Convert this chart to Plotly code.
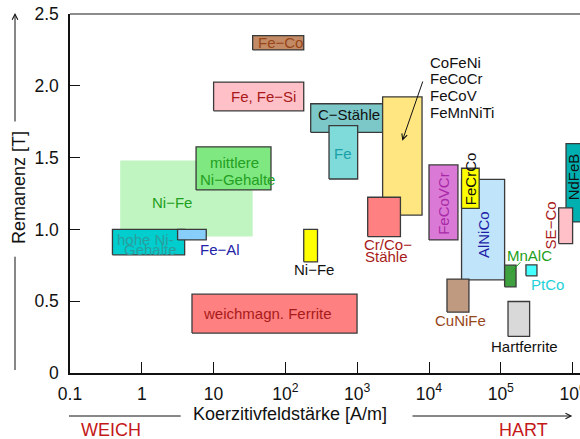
import numpy as np
import plotly.graph_objects as go

FONT = "Liberation Sans, Arial, Helvetica, sans-serif"

# ---------------- data ----------------
materials = ["Ni-Fe", "mittlere Ni-Gehalte", "hohe Ni-Gehalte", "Fe-Al", "Fe-Co",
             "Fe, Fe-Si", "C-Stähle", "Fe", "CoFeNi/FeCoCr/FeCoV/FeMnNiTi", "Ni-Fe (2)",
             "weichmagn. Ferrite", "Cr/Co-Stähle", "FeCoVCr", "AlNiCo", "FeCrCo",
             "CuNiFe", "MnAlC", "PtCo", "Hartferrite", "NdFeB", "SE-Co"]
hc_min = [0.5, 5.7, 0.39, 3.15, 35, 10, 225, 405, 2260, 180,
          5.0, 1400, 10000, 28400, 28400, 17800, 113000, 224000, 126000, 810000, 640000]
hc_max = [35, 63, 3.95, 7.9, 180, 180, 2260, 1015, 8000, 280,
          995, 4000, 25300, 113000, 50000, 36000, 163000, 319000, 252000, 2500000, 1000000]
br_min = [0.95, 1.275, 0.823, 0.927, 2.25, 1.826, 1.676, 1.351, 1.10, 0.774,
          0.278, 0.95, 0.927, 0.649, 1.147, 0.424, 0.60, 0.677, 0.255, 1.052, 0.901]
br_max = [1.48, 1.575, 1.0, 1.0, 2.35, 2.026, 1.875, 1.722, 1.923, 1.0,
          0.549, 1.224, 1.449, 1.349, 1.426, 0.654, 0.751, 0.753, 0.498, 1.597, 1.150]

x_tickvals = [0.1, 1, 10, 100, 1000, 1e4, 1e5, 1e6]
x_ticktext = ["0.1", "1", "10", "10<sup>2</sup>", "10<sup>3</sup>", "10<sup>4</sup>",
              "10<sup>5</sup>", "10<sup>6</sup>"]
y_tickvals = [0, 0.5, 1.0, 1.5, 2.0, 2.5]
y_ticktext = ["0", "0.5", "1.0", "1.5", "2.0", "2.5"]

# ---------------- styles ----------------
fill_colors = ["#c0f4c0", "#80e880", "#00cdcd", "#87cefa", "#c38b65",
               "#ffc0c8", "#7cc8c8", "#7fdada", "#ffe680", "#ffff00",
               "#ff8080", "#ff8080", "#da7ad6", "#c0e4fa", "#ffff00",
               "#bf9a80", "#3fa03f", "#44ffff", "#d9d9d9", "#00b0b0", "#ffc0c8"]
EDGE = "#3a3a3a"

GREEN = "#22a022"; TEAL = "#1aa0a8"; TEAL2 = "#2a9e9e"; BLUE = "#2222a8"
BROWN = "#97461a"; DRED = "#a81a1a"; BLACK = "#111111"; PURPLE = "#a82aa8"
NAVY = "#1c1ca8"; CYAN = "#22d0d8"; RED = "#c41818"

# label specs: (text, ref, dx px, dy px, color, angle, xanchor)
labels = [
    [("Ni−Fe", "c", -14.6, -3.6, GREEN, 0, "center")],
    [("mittlere", "c", 0.6, 5.6, GREEN, 0, "center"), ("Ni−Gehalte", "c", 3.8, -11, GREEN, 0, "center")],
    [("hohe Ni-", "c", -3.3, 3.1, TEAL2, 0, "center"), ("Gehalte", "c", 1.7, -6.9, TEAL2, 0, "center")],
    [("Fe−Al", "c", 28.3, -15.3, BLUE, 0, "center")],
    [("Fe−Co", "c", 2.5, 0, BROWN, 0, "center")],
    [("Fe, Fe−Si", "c", 4.6, -0.4, DRED, 0, "center")],
    [("C−Stähle", "c", 2.7, 3.7, BLACK, 0, "center")],
    [("Fe", "c", 0, -1, TEAL, 0, "center")],
    [("CoFeNi", "tr", 5.6, 34.2, BLACK, 0, "left"), ("FeCoCr", "tr", 5.6, 17.9, BLACK, 0, "left"),
     ("FeCoV", "tr", 5.6, 0.9, BLACK, 0, "left"), ("FeMnNiTi", "tr", 5.6, -15.8, BLACK, 0, "left")],
    [("Ni−Fe", "b", 3, -8, BLACK, 0, "center")],
    [("weichmagn. Ferrite", "c", -7.2, -0.2, DRED, 0, "center")],
    [("Cr/Co−", "b", 3.7, -8.3, DRED, 0, "center"), ("Stähle", "b", 2.9, -20, DRED, 0, "center")],
    [("FeCoVCr", "c", 0, -1, PURPLE, -90, "center")],
    [("AlNiCo", "c", 1.2, -5.3, NAVY, -90, "center")],
    [("FeCrCo", "c", 0.8, 9.3, BLACK, -90, "center")],
    [("CuNiFe", "b", 2.3, -8.4, BROWN, 0, "center")],
    [("MnAlC", "c", 19.3, 20.2, GREEN, 0, "center")],
    [("PtCo", "c", 16.5, -13.8, CYAN, 0, "center")],
    [("Hartferrite", "b", 5.8, -10, BLACK, 0, "center")],
    [("NdFeB", "lc", 7.6, 6.1, BLACK, -90, "center")],
    [("SE−Co", "c", -15.3, 0.7, DRED, -90, "center")],
]

W, H = 580, 439
ML, MR, MT, MB = 70, 0, 14, 66
PW, PH = W - ML - MR, H - MT - MB
DEC = 71.8
XR = [-1, -1 + PW / DEC]
YR = [0, 2.5]


def px2paper(px, py):
    return (px - ML) / PW, (H - MB - py) / PH


fig = go.Figure()
for i in range(len(materials)):
    x0, x1, y0, y1 = hc_min[i], hc_max[i], br_min[i], br_max[i]
    border = i != 0
    fig.add_trace(go.Scatter(
        x=[x0, x1, x1, x0, x0], y=[y0, y0, y1, y1, y0], mode="lines",
        fill="toself", fillcolor=fill_colors[i],
        line=dict(color=EDGE if border else fill_colors[i], width=1.3 if border else 0),
        hoverinfo="skip", showlegend=False, name=materials[i]))

annotations = []
for i, specs in enumerate(labels):
    lx0, lx1 = np.log10(hc_min[i]), np.log10(hc_max[i])
    for (txt, ref, dx, dy, col, ang, xa) in specs:
        if ref == "c":
            ax_, ay_ = (lx0 + lx1) / 2, (br_min[i] + br_max[i]) / 2
        elif ref == "b":
            ax_, ay_ = (lx0 + lx1) / 2, br_min[i]
        elif ref == "tr":
            ax_, ay_ = lx1, br_max[i]
        else:  # lc
            ax_, ay_ = lx0, (br_min[i] + br_max[i]) / 2
        annotations.append(dict(
            x=ax_, y=ay_, xref="x", yref="y", text=txt, showarrow=False,
            xshift=dx, yshift=dy, textangle=ang, xanchor=xa, yanchor="middle",
            font=dict(family=FONT, size=15, color=col)))

# arrow pointing to the yellow CoFeNi box
annotations.append(dict(x=(402.3 - ML) / DEC - 1, y=(H - MB - 140.7) / (PH / 2.5),
                        xref="x", yref="y", text="", showarrow=True, ax=21, ay=-60.7,
                        arrowhead=5, arrowsize=1.1, arrowwidth=1, arrowcolor="#111111"))
# MnAlC leader line
annotations.append(dict(x=(511 - ML) / DEC - 1, y=(H - MB - 272.7) / (PH / 2.5),
                        xref="x", yref="y", text="", showarrow=True, ax=10.7, ay=-12,
                        arrowhead=0, arrowwidth=1, arrowcolor=GREEN))

# axis titles and arrows
px_, py_ = px2paper(19, 188)
annotations.append(dict(x=px_, y=py_, xref="paper", yref="paper", text="Remanenz [T]",
                        showarrow=False, textangle=-90, xanchor="center", yanchor="middle",
                        font=dict(family=FONT, size=18, color="#111111")))
px_, py_ = px2paper(290, 414)
annotations.append(dict(x=px_, y=py_, xref="paper", yref="paper",
                        text="Koerzitivfeldstärke [A/m]", showarrow=False,
                        xanchor="center", yanchor="middle",
                        font=dict(family=FONT, size=18, color="#111111")))
px_, py_ = px2paper(111, 430)
annotations.append(dict(x=px_, y=py_, xref="paper", yref="paper", text="WEICH",
                        showarrow=False, xanchor="center", yanchor="middle",
                        font=dict(family=FONT, size=18, color=RED)))
px_, py_ = px2paper(523, 430)
annotations.append(dict(x=px_, y=py_, xref="paper", yref="paper", text="HART",
                        showarrow=False, xanchor="center", yanchor="middle",
                        font=dict(family=FONT, size=18, color=RED)))
# y arrow (upper part)
px_, py_ = px2paper(15, 13)
annotations.append(dict(x=px_, y=py_, xref="paper", yref="paper", text="", showarrow=True,
                        ax=0, ay=110, arrowhead=5, arrowsize=1.1, arrowwidth=1,
                        arrowcolor="#111111"))
# x arrow (right part)
px_, py_ = px2paper(572.3, 416)
annotations.append(dict(x=px_, y=py_, xref="paper", yref="paper", text="", showarrow=True,
                        ax=-161.3, ay=0, arrowhead=5, arrowsize=1.1, arrowwidth=1,
                        arrowcolor="#111111"))

shapes = []
a = px2paper(15, 256.7); b = px2paper(15, 370)
shapes.append(dict(type="line", xref="paper", yref="paper", x0=a[0], y0=a[1], x1=b[0], y1=b[1],
                   line=dict(color="#111111", width=1)))
a = px2paper(69, 416); b = px2paper(180.7, 416)
shapes.append(dict(type="line", xref="paper", yref="paper", x0=a[0], y0=a[1], x1=b[0], y1=b[1],
                   line=dict(color="#111111", width=1)))
shapes.append(dict(type="line", xref="paper", yref="paper", x0=0, y0=1, x1=1.05, y1=1,
                   line=dict(color="#666666", width=1.3)))

fig.update_layout(
    width=W, height=H, margin=dict(l=ML, r=MR, t=MT, b=MB, pad=0),
    paper_bgcolor="white", plot_bgcolor="white",
    font=dict(family=FONT, size=17.5, color="#111111"),
    annotations=annotations, shapes=shapes,
    xaxis=dict(type="log", range=XR, tickvals=x_tickvals, ticktext=x_ticktext,
               ticks="inside", ticklen=11, tickwidth=1.3, tickcolor="#111111",
               showline=True, linecolor="#111111", linewidth=1.5, showgrid=False,
               zeroline=False, ticklabelstandoff=4, automargin=False,
               ticklabeloverflow="allow",
               tickfont=dict(family=FONT, size=17.5, color="#111111")),
    yaxis=dict(range=YR, tickvals=y_tickvals, ticktext=y_ticktext,
               ticks="inside", ticklen=10, tickwidth=1.3, tickcolor="#111111",
               showline=True, linecolor="#111111", linewidth=1.5, showgrid=False,
               zeroline=False, ticklabelstandoff=6, automargin=False,
               ticklabeloverflow="allow",
               tickfont=dict(family=FONT, size=17.5, color="#111111")),
    showlegend=False,
)

fig.write_html("out.html", config={"displayModeBar": False},
               post_script="document.body.style.margin='0';document.body.style.padding='0';")
